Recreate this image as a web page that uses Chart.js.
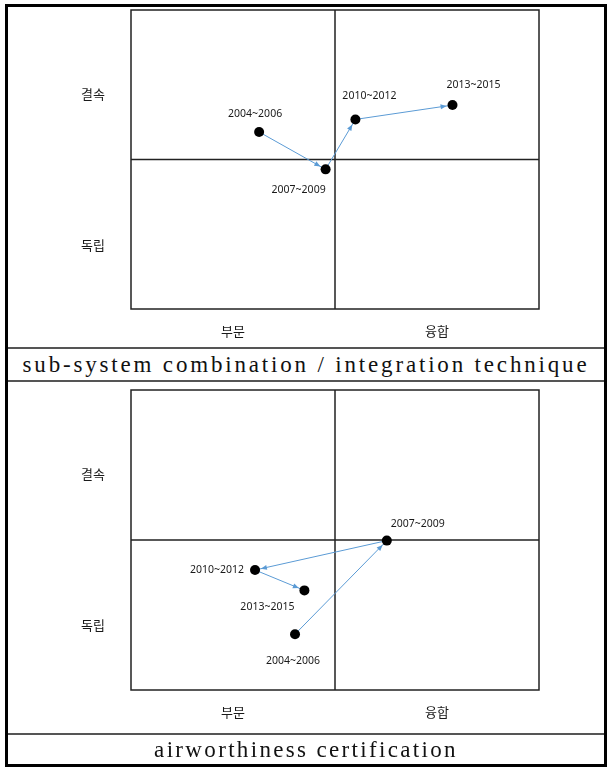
<!DOCTYPE html>
<html>
<head>
<meta charset="utf-8">
<script src="https://cdn.jsdelivr.net/npm/chart.js@4.4.1/dist/chart.umd.min.js"></script>
<style>
  body { margin: 0; background: #fff; width: 607px; height: 767px; position: relative; overflow: hidden; }
  .abs { position: absolute; }
  .frame { left: 5px; top: 4px; width: 602px; height: 763px; border: 3px solid #000; box-sizing: border-box; }
  .rule { left: 8px; width: 596px; height: 2px; background: #555; }
  .cap { left: 8px; width: 596px; display: flex; align-items: center; justify-content: center;
         font-family: 'Liberation Serif', 'DejaVu Serif', serif; font-size: 23px; color: #111; white-space: nowrap; }
</style>
</head>
<body>
<div class="abs frame"></div>
<canvas id="c1" class="abs" style="left:0;top:0" width="607" height="347"></canvas>
<div class="abs rule" style="top:347px"></div>
<div class="abs cap" id="cap1" style="top:349px;height:31px" data-w="567">sub-system combination / integration technique</div>
<div class="abs rule" style="top:380px"></div>
<canvas id="c2" class="abs" style="left:0;top:381px" width="607" height="353"></canvas>
<div class="abs rule" style="top:733px"></div>
<div class="abs cap" id="cap2" style="top:735px;height:30px" data-w="304">airworthiness certification</div>
<script>
const periods = ['2004~2006', '2007~2009', '2010~2012', '2013~2015']
const xTicks = [2.5, 7.5]
const xTickLabels = ['부문', '융합']
const yTicks = [2.15, 7.2]
const yTickLabels = ['독립', '결속']

// sub-system combination / integration technique
const subX = [3.14, 4.77, 5.50, 7.88]
const subY = [5.92, 4.67, 6.34, 6.82]

// airworthiness certification
const airX = [4.02, 6.27, 3.04, 4.25]
const airY = [1.86, 4.98, 4.0, 3.32]

Chart.defaults.font.family = "'Noto Sans CJK KR', 'Noto Sans', sans-serif"
Chart.defaults.color = '#1a1a1a'

const quadrantLines = {
  id: 'quadrantLines',
  beforeDatasetsDraw(chart) {
    const { ctx, chartArea: a, scales: { x, y } } = chart
    const mx = x.getPixelForValue(5)
    const my = y.getPixelForValue(5)
    ctx.save()
    ctx.strokeStyle = '#222'
    ctx.lineWidth = 1.5
    ctx.strokeRect(a.left, a.top, a.width, a.height)
    ctx.beginPath()
    ctx.moveTo(mx, a.top); ctx.lineTo(mx, a.bottom)
    ctx.moveTo(a.left, my); ctx.lineTo(a.right, my)
    ctx.stroke()
    ctx.restore()
  }
}

// arrow heads at the end of each segment + period labels
const arrowsAndLabels = {
  id: 'arrowsAndLabels',
  afterDatasetsDraw(chart, args, opts) {
    const { ctx } = chart
    const pts = chart.getDatasetMeta(0).data
    ctx.save()
    ctx.fillStyle = '#5b9bd5'
    for (let i = 1; i < pts.length; i++) {
      const a = pts[i - 1], b = pts[i]
      const ang = Math.atan2(b.y - a.y, b.x - a.x)
      const tipX = b.x - Math.cos(ang) * 6
      const tipY = b.y - Math.sin(ang) * 6
      ctx.save()
      ctx.translate(tipX, tipY)
      ctx.rotate(ang)
      ctx.beginPath()
      ctx.moveTo(0, 0)
      ctx.lineTo(-6, -2.5)
      ctx.lineTo(-6, 2.5)
      ctx.closePath()
      ctx.fill()
      ctx.restore()
    }
    ctx.fillStyle = '#1a1a1a'
    ctx.font = "10.5px 'Noto Sans', sans-serif"
    ctx.textAlign = 'center'
    ctx.textBaseline = 'middle'
    pts.forEach((p, i) => {
      const [dx, dy] = opts.offsets[i]
      ctx.fillText(periods[i], p.x + dx, p.y + dy)
    })
    ctx.restore()
  }
}

const noPad = s => { s.paddingTop = 0; s.paddingBottom = 0; s.paddingLeft = 0; s.paddingRight = 0 }

const createQuadrantChart = (canvas, xs, ys, offsets, padTop, axisH) => new Chart(canvas, {
  type: 'scatter',
  data: {
    datasets: [{
      data: periods.map((p, i) => ({ x: xs[i], y: ys[i] })),
      showLine: true,
      borderColor: '#5b9bd5',
      borderWidth: 1,
      pointRadius: 5,
      pointHoverRadius: 5,
      pointBackgroundColor: '#000',
      pointBorderWidth: 0
    }]
  },
  options: {
    responsive: false,
    animation: false,
    events: [],
    layout: { autoPadding: false, padding: { top: padTop, right: 68, left: 0, bottom: 0 } },
    plugins: { legend: { display: false }, tooltip: { enabled: false }, arrowsAndLabels: { offsets } },
    scales: {
      x: {
        type: 'linear', min: 0, max: 10,
        grid: { display: false }, border: { display: false },
        afterBuildTicks: s => { s.ticks = xTicks.map(v => ({ value: v })) },
        afterFit: s => { s.height = axisH; noPad(s) },
        ticks: { callback: (v, i) => xTickLabels[i], font: { size: 13 }, padding: 6, maxRotation: 0, autoSkip: false }
      },
      y: {
        type: 'linear', min: 0, max: 10,
        grid: { display: false }, border: { display: false },
        afterBuildTicks: s => { s.ticks = yTicks.map(v => ({ value: v })) },
        afterFit: s => { s.width = 131; noPad(s) },
        ticks: { callback: (v, i) => yTickLabels[i], font: { size: 13 }, padding: 18, autoSkip: false }
      }
    }
  },
  plugins: [quadrantLines, arrowsAndLabels]
})

createQuadrantChart(document.getElementById('c1'), subX, subY,
  [[-4, -18], [-27, 21], [14, -23], [21, -20]], 10, 38)
createQuadrantChart(document.getElementById('c2'), airX, airY,
  [[-2, 27], [31, -17], [-38, 0], [-37, 17]], 9, 44)

// spread the caption letters to the width they take in the source table
document.querySelectorAll('.cap').forEach(el => {
  const span = document.createElement('span')
  span.textContent = el.textContent
  el.textContent = ''
  el.appendChild(span)
  const target = +el.dataset.w
  const n = span.textContent.length
  span.style.letterSpacing = ((target - span.offsetWidth) / n) + 'px'
})
</script>
</body>
</html>
